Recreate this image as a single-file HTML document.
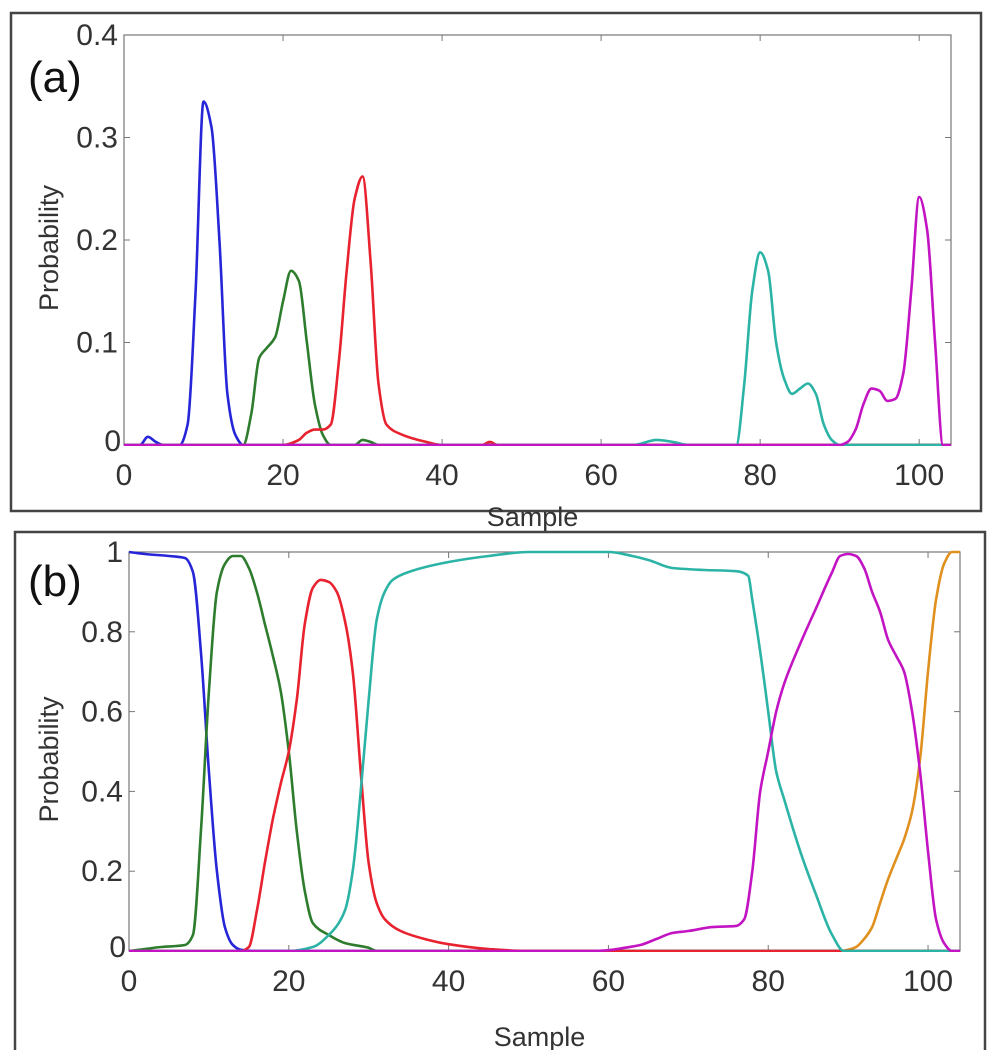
<!DOCTYPE html>
<html><head><meta charset="utf-8"><style>
body{margin:0;background:#fff;width:1000px;height:1050px;overflow:hidden}
svg{display:block}
text{font-family:"Liberation Sans",Arial,sans-serif;fill:#333}
</style></head><body>
<svg id="fig" width="1000" height="1050"></svg>
<script>
// Panel (a) data
const aTicksX=[0,20,40,60,80,100];
const aTicksY=[0,0.1,0.2,0.3,0.4];
const aBlueX=[0,2,3,4,5,7,8,9,10,11,12,13,14,15,104];
const aBlueY=[0,0,0.008,0.003,0,0,0.02,0.15,0.335,0.31,0.2,0.05,0.01,0,0];
const aGreenX=[0,15,16,17,18,19,20,21,22,23,24,25,26,29,30,31,32,104];
const aGreenY=[0,0,0.03,0.085,0.095,0.105,0.14,0.17,0.16,0.1,0.04,0.01,0,0,0.005,0.003,0,0];
const aRedX=[0,20,22,23,24,25,26,27,28,29,30,31,32,33,35,38,40,45,46,47,104];
const aRedY=[0,0,0.005,0.012,0.015,0.015,0.02,0.08,0.17,0.24,0.262,0.18,0.06,0.02,0.01,0.003,0,0,0.003,0,0];
const aCyanX=[0,64,67,69,71,77,78,79,80,81,82,83,84,85,86,87,88,89,90,104];
const aCyanY=[0,0,0.005,0.003,0,0,0.06,0.15,0.188,0.17,0.1,0.065,0.05,0.055,0.06,0.05,0.02,0.005,0,0];
const aMagX=[0,90,91,92,93,94,95,96,97,98,99,100,101,102,103,104];
const aMagY=[0,0,0.003,0.015,0.04,0.055,0.053,0.043,0.045,0.07,0.15,0.242,0.21,0.1,0,0];
// Panel (b) data
const bTicksX=[0,20,40,60,80,100];
const bTicksY=[0,0.2,0.4,0.6,0.8,1];
const bBlueX=[0,2,5,7,8,9,10,11,12,13,14,16,104];
const bBlueY=[1,0.995,0.99,0.985,0.95,0.75,0.45,0.2,0.06,0.015,0.003,0,0];
const bGreenX=[0,2,4,7,8,9,10,11,12,13,14,15,16,17,18,19,20,21,22,23,25,27,30,31,104];
const bGreenY=[0,0.005,0.01,0.015,0.04,0.3,0.65,0.9,0.97,0.99,0.99,0.96,0.9,0.82,0.74,0.65,0.5,0.3,0.15,0.07,0.04,0.02,0.008,0,0];
const bRedX=[0,14,15,16,17,18,19,20,21,22,23,24,25,26,27,28,29,30,31,32,34,37,40,45,50,104];
const bRedY=[0,0,0.01,0.1,0.22,0.33,0.42,0.5,0.63,0.82,0.91,0.93,0.925,0.9,0.83,0.7,0.45,0.22,0.12,0.08,0.05,0.03,0.017,0.005,0,0];
const bCyanX=[0,20,23,25,27,28,29,30,31,32,33,35,40,45,50,60,63,65,68,72,76,77.5,78,79,80,81,82,84,86,88,89.5,104];
const bCyanY=[0,0,0.01,0.04,0.1,0.2,0.4,0.63,0.83,0.9,0.93,0.95,0.975,0.99,1,1,0.99,0.98,0.96,0.955,0.952,0.94,0.88,0.75,0.6,0.45,0.38,0.25,0.14,0.04,0,0];
const bMagX=[0,58,60,62,64,66,68,70,73,76,77,78,79,80,81,82,84,86,88,89,90,91,92,93,94,95,96,97,98,99,100,101,102,103,104];
const bMagY=[0,0,0.002,0.008,0.015,0.03,0.045,0.05,0.06,0.063,0.08,0.2,0.4,0.5,0.6,0.67,0.77,0.86,0.95,0.99,0.995,0.99,0.96,0.9,0.85,0.78,0.74,0.7,0.6,0.45,0.25,0.08,0.02,0,0];
const bOrX=[0,89,90,91,92,93,94,95,96,97,98,99,100,101,102,103,104];
const bOrY=[0,0,0.003,0.01,0.03,0.06,0.12,0.18,0.23,0.28,0.35,0.48,0.7,0.88,0.97,1,1];

const NS="http://www.w3.org/2000/svg";
const svg=document.getElementById('fig');
function mk(tag,attrs,parent){const e=document.createElementNS(NS,tag);for(const k in attrs)e.setAttribute(k,attrs[k]);(parent||svg).appendChild(e);return e;}

function monoPath(pts){
  const n=pts.length;
  const dx=[],dy=[],m=[];
  for(let i=0;i<n-1;i++){dx.push(pts[i+1][0]-pts[i][0]);dy.push(pts[i+1][1]-pts[i][1]);m.push(dy[i]/dx[i]);}
  const t=new Array(n);
  t[0]=m[0];t[n-1]=m[n-2];
  for(let i=1;i<n-1;i++){
    if(m[i-1]*m[i]<=0)t[i]=0;
    else{const w1=2*dx[i]+dx[i-1],w2=dx[i]+2*dx[i-1];t[i]=(w1+w2)/(w1/m[i-1]+w2/m[i]);}
  }
  let d='M'+pts[0][0].toFixed(1)+','+pts[0][1].toFixed(1);
  for(let i=0;i<n-1;i++){
    const h=dx[i]/3;
    d+=' C'+(pts[i][0]+h).toFixed(1)+','+(pts[i][1]+t[i]*h).toFixed(1)+' '+(pts[i+1][0]-h).toFixed(1)+','+(pts[i+1][1]-t[i+1]*h).toFixed(1)+' '+pts[i+1][0].toFixed(1)+','+pts[i+1][1].toFixed(1);
  }
  return d;
}

function panel(cfg){
  const {name,box,L,R,T,B,xmax,ymax,ticksX,ticksY,fmt,series,label,labelY,xtitleY}=cfg;
  const g=mk('g',{});
  
  
  const sx=v=>L+v/xmax*(R-L), sy=v=>B-v/ymax*(B-T);
  const fr=mk('rect',{x:box[0],y:box[1],width:box[2],height:box[3],fill:'none',stroke:'#444','stroke-width':2.5},g);
  
  
  const ax=mk('rect',{x:L,y:T,width:R-L,height:B-T,fill:'none',stroke:'#777','stroke-width':1.2},g);
  
  
  ticksX.forEach(t=>{
    const x=sx(t);
    mk('line',{x1:x,y1:B,x2:x,y2:B-6,stroke:'#777'},g);
    mk('line',{x1:x,y1:T,x2:x,y2:T+6,stroke:'#777'},g);
    const tx=mk('text',{x:x,y:B+40,'font-size':30,'text-anchor':'middle'},g);
    tx.textContent=t;
    
    
  });
  ticksY.forEach(t=>{
    const y=sy(t);
    mk('line',{x1:L,y1:y,x2:L+6,y2:y,stroke:'#777'},g);
    mk('line',{x1:R,y1:y,x2:R-6,y2:y,stroke:'#777'},g);
    const ty=mk('text',{x:t===0?L-3:L-6,y:y+(t===0?6:10),'font-size':30,'text-anchor':'end'},g);
    ty.textContent=fmt(t);
    
    
  });
  const cpId='clip-'+name;
  const cp=mk('clipPath',{id:cpId},g);
  mk('rect',{x:L,y:T-2,width:R-L,height:B-T+3},cp);
  series.forEach(s=>{
    const pts=s.x.map((v,i)=>[sx(v),sy(s.y[i])]);
    const p=mk('path',{d:monoPath(pts),fill:'none',stroke:s.c,'stroke-width':2.6,'stroke-linejoin':'round','clip-path':'url(#'+cpId+')'},g);
    
    
  });
  const yt=mk('text',{x:0,y:0,'font-size':27,'text-anchor':'middle',transform:'translate(58,'+((T+B)/2+8)+') rotate(-90)'},g);
  yt.textContent='Probability';
  
  
  const xt=mk('text',{x:(L+R)/2-5,y:xtitleY,'font-size':27,'text-anchor':'middle'},g);
  xt.textContent='Sample';
  
  
  const pl=mk('text',{x:28,y:labelY,'font-size':44,style:'fill:#111'},g);
  pl.textContent=label;
  
  
}

panel({name:'panel-a',box:[11,13,970,498],L:124,R:951,T:35,B:445,xmax:104,ymax:0.4,
  ticksX:aTicksX,ticksY:aTicksY,fmt:t=>t===0?'0':t.toFixed(1),label:'(a)',labelY:92,xtitleY:526,
  series:[
    {n:'series-a-blue',x:aBlueX,y:aBlueY,c:'#2626d8'},
    {n:'series-a-green',x:aGreenX,y:aGreenY,c:'#2e7d2e'},
    {n:'series-a-red',x:aRedX,y:aRedY,c:'#e8222e'},
    {n:'series-a-cyan',x:aCyanX,y:aCyanY,c:'#2bb3a6'},
    {n:'series-a-magenta',x:aMagX,y:aMagY,c:'#c214c2'}]});
panel({name:'panel-b',box:[15,532,970,525],L:129,R:960,T:552,B:951,xmax:104,ymax:1,
  ticksX:bTicksX,ticksY:bTicksY,fmt:t=>(t===0||t===1)?String(t):t.toFixed(1),label:'(b)',labelY:596,xtitleY:1046,
  series:[
    {n:'series-b-orange',x:bOrX,y:bOrY,c:'#e0901e'},
    {n:'series-b-blue',x:bBlueX,y:bBlueY,c:'#2626d8'},
    {n:'series-b-green',x:bGreenX,y:bGreenY,c:'#2e7d2e'},
    {n:'series-b-red',x:bRedX,y:bRedY,c:'#e8222e'},
    {n:'series-b-cyan',x:bCyanX,y:bCyanY,c:'#2bb3a6'},
    {n:'series-b-magenta',x:bMagX,y:bMagY,c:'#c214c2'}]});
</script>
</body></html>
